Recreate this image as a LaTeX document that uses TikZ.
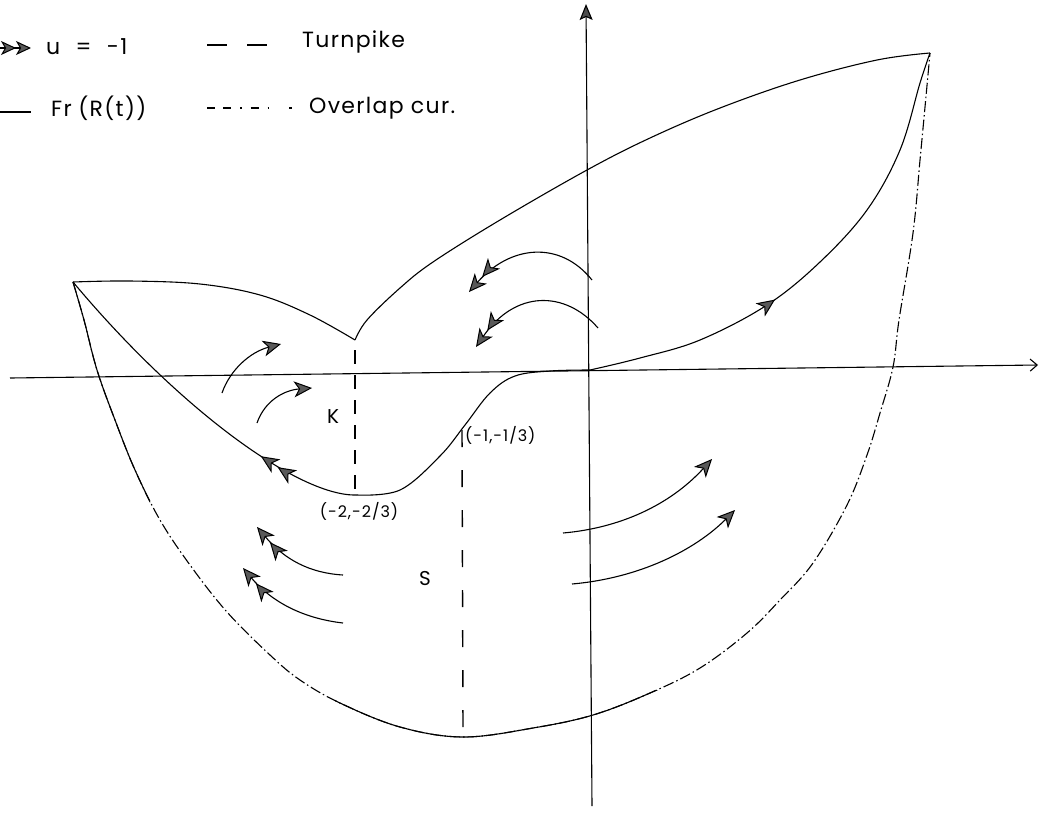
\documentclass[tikz,border=0pt]{standalone}
\usepackage{fontspec}
\newfontfamily\lblfont[LetterSpace=6]{Poppins}
\usetikzlibrary{arrows.meta,decorations.markings}
\tikzset{
  curve/.style={line width=1.1pt},
  overlap/.style={line width=1.1pt, dash pattern=on 11pt off 3pt on 1.5pt off 3pt},
  turnpike/.style={line width=1.4pt, dash pattern=on 16pt off 22pt},
  axis/.style={line width=1.1pt},
  single/.style={curve,-{Stealth[length=18pt,width=16pt,inset=5pt,fill=black!65,line width=1pt]}},
  double/.style={curve,-{Stealth[length=18pt,width=16pt,inset=5pt,fill=black!65,line width=1pt,sep=2pt]Stealth[length=18pt,width=16pt,inset=5pt,fill=black!65,line width=1pt]}},
  lbl/.style={inner sep=0pt, font=\lblfont\fontsize{16}{16}\selectfont},
  big/.style={inner sep=0pt, font=\lblfont\fontsize{20}{20}\selectfont},
  leg/.style={inner sep=0pt, anchor=west, font=\lblfont\fontsize{22}{22}\selectfont},
}
\begin{document}
\begin{tikzpicture}[x=1pt,y=-1pt]
\useasboundingbox (0,0) rectangle (1040,814);

% ---------- key points ----------
\coordinate (L) at (73,282);    % left tip
\coordinate (R) at (930,53);    % right tip
\coordinate (C) at (355,340);   % cusp
\coordinate (M) at (357,495);   % (-2,-2/3)
\coordinate (O) at (590,370);   % origin
\coordinate (B) at (463,737);   % bottom

% ---------- axes ----------
\coordinate (xl) at (10,378);  \coordinate (xr) at (1038,365);
\coordinate (yb) at (592,806); \coordinate (yt) at (586,4);
\draw[axis,-{Straight Barb[length=7pt,width=12pt]}] (xl) -- (xr);
\draw[axis,-{Stealth[length=16pt,width=13pt,inset=3pt,fill=black!70]}] (yb) -- (yt);

% ---------- upper boundary ----------
\draw[curve] plot[smooth,tension=0.6] coordinates {(73,282) (130,281) (200,284) (260,295) (310,315) (355,340)};
\draw[curve] plot[smooth,tension=0.6] coordinates {(355,340) (367,320) (400,288) (433,262) (500,220) (587,170) (650,138) (720,108) (800,80) (877,60) (930,53)};

% ---------- outer (overlap) curve ----------
\def\outer{plot[smooth,tension=0.6] coordinates {(73,282) (84,320) (97,370) (115,420) (135,470) (160,520) (190,565) (227,612) (270,655) (300,680) (340,703) (400,727) (463,737) (533,728) (593,715) (650,693) (700,668) (747,633) (780,600) (813,563) (847,505) (867,455) (880,413) (893,367) (899,320) (913,233) (920,160) (925,107) (930,53)}}
\draw[overlap] \outer;
\begin{scope}
  \clip (55,275) rectangle (150,505);
  \draw[curve] \outer;
\end{scope}
\begin{scope}
  \clip (335,690) rectangle (700,760);
  \draw[curve] \outer;
\end{scope}

% ---------- Fr(R(t)) ----------
\draw[curve, postaction={decorate}, decoration={markings,
      mark=at position 0.29 with {\arrow{Stealth[length=18pt,width=16pt,inset=5pt,fill=black!65,line width=1pt,sep=2pt]Stealth[length=18pt,width=16pt,inset=5pt,fill=black!65,line width=1pt]}}}]
  (M) .. controls (300,497) and (180,410) .. (L);
\draw[curve] plot[smooth,tension=0.6] coordinates {(357,495) (400,490) (440,456) (465,425) (490,393) (515,376) (550,371) (590,370)};
\draw[curve, postaction={decorate}, decoration={markings,
      mark=at position 0.40 with {\arrow{Stealth[length=18pt,width=16pt,inset=5pt,fill=black!65,line width=1pt]}}}]
  plot[smooth,tension=0.6] coordinates {(590,370) (640,358) (700,340) (767,305) (820,262) (867,210) (900,150) (920,83) (930,53)};

% ---------- turnpikes ----------
\coordinate (Kt) at (355,350); \coordinate (Kb) at (355,495);
\coordinate (St) at (462,430); \coordinate (Sb) at (463,730);
\draw[turnpike, dash pattern=on 14pt off 11pt] (Kt) -- (Kb);
\draw[turnpike, dash pattern=on 17pt off 23pt] (St) -- (Sb);

% ---------- labels ----------
\node[big] (K) at (333,417) {K};
\node[big] (S) at (425,578) {S};
\node[lbl] (m2) at (359,511) {(-2,-2/3)};
\node[lbl, anchor=west] (m1) at (465,435) {(-1,-1/3)};

% ---------- trajectories ----------
\coordinate (a1s) at (222,393); \coordinate (a1e) at (281,344);
\draw[single] (a1s) .. controls (230,370) and (250,352) .. (a1e);
\coordinate (a2s) at (257,423); \coordinate (a2e) at (312,388);
\draw[single] (a2s) .. controls (265,400) and (285,390) .. (a2e);

\coordinate (b1s) at (592,280); \coordinate (b1e) at (469,292);
\draw[double] (b1s) .. controls (560,240) and (510,245) .. (b1e);
\coordinate (b2s) at (598,328); \coordinate (b2e) at (476,347);
\draw[double] (b2s) .. controls (565,290) and (515,290) .. (b2e);

\coordinate (c1s) at (343,575); \coordinate (c1e) at (257,527);
\draw[double] (c1s) .. controls (310,573) and (285,560) .. (c1e);
\coordinate (c2s) at (343,623); \coordinate (c2e) at (243,568);
\draw[double] (c2s) .. controls (300,618) and (270,600) .. (c2e);

\coordinate (d1s) at (563,533); \coordinate (d1e) at (712,459);
\draw[single] (d1s) .. controls (620,528) and (670,505) .. (d1e);
\coordinate (d2s) at (572,584); \coordinate (d2e) at (735,510);
\draw[single] (d2s) .. controls (640,578) and (695,550) .. (d2e);

% ---------- legend ----------
\coordinate (l1a) at (0,48); \coordinate (l1b) at (31,48);
\draw[curve,-{Stealth[length=15pt,width=14pt,inset=4pt,fill=black!65,line width=1pt,sep=0pt]Stealth[length=15pt,width=14pt,inset=4pt,fill=black!65,line width=1pt]}] (l1a) -- (l1b);
\node[leg] (lu) at (46,47) {u\hspace{0.7em}=\hspace{0.7em}-1};
\coordinate (l2a) at (207,45); \coordinate (l2b) at (268,45);
\draw[turnpike, dash pattern=on 20pt off 20pt] (l2a) -- (l2b);
\node[leg] (lt) at (302,42) {Turnpike};
\coordinate (l3a) at (0,112); \coordinate (l3b) at (31,112);
\draw[curve] (l3a) -- (l3b);
\node[leg] (lf) at (51,108) {Fr\hspace{0.3em}(R(t))};
\coordinate (l4a) at (207,108); \coordinate (l4b) at (292,108);
\draw[line width=1.1pt, dash pattern=on 8pt off 8pt on 8pt off 9pt on 1.5pt off 9pt on 8pt off 9pt on 1.5pt off 20pt] (l4a) -- (l4b);
\node[leg] (lo) at (309,108) {Overlap cur.};
\end{tikzpicture}
\end{document}
